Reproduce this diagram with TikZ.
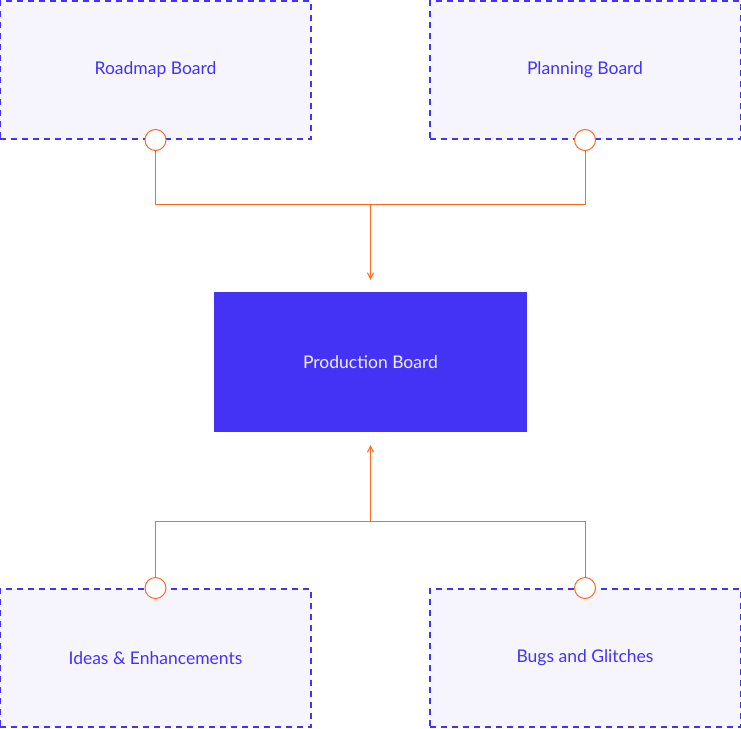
\documentclass[tikz,border=0pt]{standalone}
\usepackage{fontspec}
\setmainfont{Lato}
\usetikzlibrary{arrows.meta,positioning,calc}
\definecolor{boardblue}{HTML}{4433F5}
\definecolor{boardfill}{HTML}{F6F5FE}
\definecolor{wireorange}{HTML}{FF6A1F}

\begin{document}
\begin{tikzpicture}[
    x=1pt, y=-1pt,
    every node/.style={font=\fontsize{17.5pt}{20pt}\selectfont},
    board/.style={rectangle, draw=boardblue, fill=boardfill, text=boardblue,
        line width=2pt, dash pattern=on 6pt off 5pt,
        minimum width=311pt, minimum height=138pt, inner sep=0pt},
    prodbox/.style={rectangle, fill=boardblue, text=white!92!boardblue,
        minimum width=313pt, minimum height=140pt, inner sep=0pt},
    port/.style={circle, draw=wireorange, fill=white, line width=1pt,
        minimum size=21pt, inner sep=0pt},
    wire/.style={draw=wireorange, line width=1pt},
    flow/.style={wire, -{Straight Barb[length=6pt,width=6pt]}}
]
    \useasboundingbox (0,0) rectangle (741,728);
    % boards
    \node[board] (roadmap)  at (155.5,70)  {Roadmap Board};
    \node[board] (planning) at (585,70)  {Planning Board};
    \node[prodbox] (production) at (370.5,362) {Production Board};
    \node[board] (ideas) at (155.5,658) {Ideas \& Enhancements};
    \node[board] (bugs)  at (585,658) {Bugs and Glitches};
    % ports
    \node[port] (roadmapport)  at (roadmap.south)  {};
    \node[port] (planningport) at (planning.south) {};
    \node[port] (ideasport)    at (ideas.north)    {};
    \node[port] (bugsport)     at (bugs.north)     {};
    % joins
    \coordinate (topjoin) at (370.5,204);
    \coordinate (botjoin) at (370.5,521);
    \draw[wire] (roadmapport.south) |- (topjoin);
    \draw[wire] (planningport.south) |- (topjoin);
    \draw[flow, shorten >=12pt] (topjoin) -- (production.north);
    \draw[wire] (ideasport.north) |- (botjoin);
    \draw[wire] (bugsport.north) |- (botjoin);
    \draw[flow, shorten >=13pt] (botjoin) -- (production.south);
\end{tikzpicture}
\end{document}
